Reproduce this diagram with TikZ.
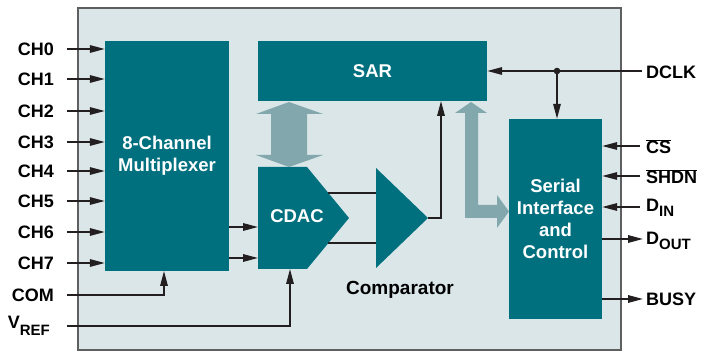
\documentclass[tikz,border=0pt]{standalone}
\usepackage{fontspec}
\setmainfont{Liberation Sans}
\usetikzlibrary{arrows.meta}

\definecolor{blockteal}{RGB}{0,112,127}
\definecolor{panelpale}{RGB}{218,230,232}
\definecolor{busgray}{RGB}{130,168,173}
\definecolor{framegray}{RGB}{95,95,95}
\definecolor{inkline}{RGB}{35,31,32}

% subscript used in the pin names (optional drop below the baseline)
\newcommand\pinsub[2][4.5pt]{\raisebox{-#1}{\fontsize{15}{15}\selectfont #2}}

\begin{document}
\begin{tikzpicture}[x=1pt,y=-1pt,
  sig/.style={line width=1.6pt, draw=inkline},
  arr/.style={sig, -{Triangle[length=15pt,width=7.5pt]}},
  block/.style={fill=blockteal, draw=none, inner sep=0pt, text=white,
    font=\fontsize{18.5}{22}\selectfont\bfseries, align=center},
  pinlabel/.style={font=\fontsize{18}{20}\selectfont\bfseries, text=black, inner sep=0pt},
  bus/.style={fill=busgray, draw=none},
]
\useasboundingbox (0,0) rectangle (704,352);

% chip outline
\draw[line width=1.6pt, draw=framegray, fill=panelpale] (78,8) rectangle (621,350);

% main blocks
\node[block, minimum width=124pt, minimum height=230pt] (mux) at (167,156) {8-Channel\\Multiplexer};
\node[block, minimum width=229pt, minimum height=60pt] (sar) at (372.5,71) {SAR};
\node[block, minimum width=93pt, minimum height=200pt] (sic) at (555.5,219) {Serial\\Interface\\and\\Control};

% CDAC (pentagon) and comparator (triangle)
\fill[blockteal] (258,167) -- (307,167) -- (349,218) -- (307,269) -- (258,269) -- cycle;
\node[block, fill=none] (cdac) at (297,216) {CDAC};
\fill[blockteal] (376,168) -- (428,218) -- (376,268) -- cycle;
\node[pinlabel, font=\fontsize{19}{20}\selectfont\bfseries, anchor=base] (cmplabel) at (400,295) {Comparator};

% connection points
\coordinate (cdacinA) at (258,227);
\coordinate (cdacinB) at (258,258);
\coordinate (cdacoutA) at (328.4,193);
\coordinate (cdacoutB) at (328.4,243);
\coordinate (cmpinA) at (376,193);
\coordinate (cmpinB) at (376,243);
\coordinate (cmpout) at (428,218);
\coordinate (sarin) at (441,101);
\coordinate (muxcom) at (164,271);
\coordinate (cdacref) at (290,269);

% data buses
\fill[bus] (289,102) -- (323,114) -- (307,114) -- (307,155) -- (323,155) -- (289,167)
  -- (256,155) -- (271,155) -- (271,114) -- (256,114) -- cycle;
\fill[bus] (471,102) -- (487,113) -- (478,113) -- (478,205) -- (497,205) -- (497,195)
  -- (509,211.5) -- (497,228) -- (497,218) -- (465,218) -- (465,113) -- (455,113) -- cycle;

% analog inputs
\foreach \name/\y in {CH0/49,CH1/79,CH2/111,CH3/142,CH4/171,CH5/201,CH6/232,CH7/263}{
  \coordinate (in\name) at (67,\y);
  \draw[arr] (in\name) -- (mux.west |- in\name);
  \node[pinlabel, anchor=base east] (lab\name) at (54,\y+7) {\name};
}
\coordinate (incom) at (67,295);
\draw[arr] (incom) -| (muxcom);
\node[pinlabel, anchor=base east] (labcom) at (54,302) {COM};
\coordinate (invref) at (67,326);
\draw[arr] (invref) -| (cdacref);
\node[pinlabel, anchor=base east] (labvref) at (50,329) {V\pinsub[7pt]{REF}};

% mux to CDAC, CDAC to comparator, comparator to SAR
\draw[arr] (mux.east |- cdacinA) -- (cdacinA);
\draw[arr] (mux.east |- cdacinB) -- (cdacinB);
\draw[sig] (cdacoutA) -- (cmpinA);
\draw[sig] (cdacoutB) -- (cmpinB);
\draw[arr] (cmpout) -| (sarin);

% clock
\coordinate (dclkpin) at (642,71);
\coordinate (dclkdot) at (557,71);
\draw[arr] (dclkpin) -- (sar.east |- dclkpin);
\draw[arr] (dclkdot) -- (sic.north -| dclkdot);
\fill[inkline] (dclkdot) circle (3.3pt);
\node[pinlabel, anchor=base west] (labdclk) at (646,79) {DCLK};

% serial interface pins
\coordinate (cspin) at (640,146);
\coordinate (shdnpin) at (640,176);
\coordinate (dinpin) at (640,207);
\coordinate (doutpin) at (643,239);
\coordinate (busypin) at (643,299);
\draw[arr] (cspin) -- (sic.east |- cspin);
\draw[arr] (shdnpin) -- (sic.east |- shdnpin);
\draw[arr] (dinpin) -- (sic.east |- dinpin);
\draw[arr] (sic.east |- doutpin) -- (doutpin);
\draw[arr] (sic.east |- busypin) -- (busypin);
\node[pinlabel, anchor=base west] (labcs) at (646,154) {$\overline{\hbox{CS}}$};
\node[pinlabel, anchor=base west] (labshdn) at (646,184) {$\overline{\hbox{SHDN}}$};
\node[pinlabel, anchor=base west] (labdin) at (646,212) {D\pinsub{IN}};
\node[pinlabel, anchor=base west] (labdout) at (646,245) {D\pinsub{OUT}};
\node[pinlabel, anchor=base west] (labbusy) at (646,306) {BUSY};
\end{tikzpicture}
\end{document}
